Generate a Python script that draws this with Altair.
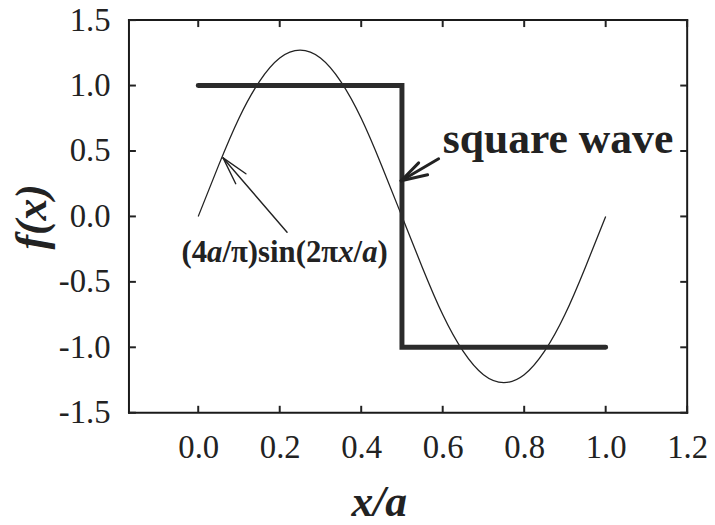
import altair as alt
import pandas as pd

# ---- data ----
x_sine = [0.00, 0.05, 0.10, 0.15, 0.20, 0.25, 0.30, 0.35, 0.40, 0.45, 0.50,
          0.55, 0.60, 0.65, 0.70, 0.75, 0.80, 0.85, 0.90, 0.95, 1.00]
y_sine = [0.00, 0.39, 0.75, 1.03, 1.21, 1.27, 1.21, 1.03, 0.75, 0.39, 0.00,
          -0.39, -0.75, -1.03, -1.21, -1.27, -1.21, -1.03, -0.75, -0.39, 0.00]

x_square = [0.0, 0.5, 0.5, 1.0]
y_square = [1.0, 1.0, -1.0, -1.0]

x_ticks = [0.0, 0.2, 0.4, 0.6, 0.8, 1.0, 1.2]
y_ticks = [-1.5, -1.0, -0.5, 0.0, 0.5, 1.0, 1.5]

# arrow segments (shaft + two barbs)
sq_arrow_x1 = [0.590, 0.498, 0.498]
sq_arrow_y1 = [0.440, 0.273, 0.273]
sq_arrow_x2 = [0.498, 0.541, 0.563]
sq_arrow_y2 = [0.273, 0.409, 0.318]

sin_arrow_x1 = [0.218, 0.061, 0.061]
sin_arrow_y1 = [-0.121, 0.447, 0.447]
sin_arrow_x2 = [0.061, 0.117, 0.092]
sin_arrow_y2 = [0.447, 0.326, 0.250]

sq_label = "square wave"
sq_label_x = [0.60]
sq_label_y = [0.483]

# sine label pieces: text, italic?
sin_label_pieces = ["(4", "a", "/π)sin(2π", "x", "/", "a", ")"]
sin_label_italic = [False, True, False, True, False, True, False]
sin_label_x = [-0.041]
sin_label_y = [-0.346]

# ---- styling ----
W, H = 563, 396
FONT = "Liberation Serif"
INK = "#222222"
FRAME = "#1a1a1a"
XDOM = [-0.17, 1.2]
YDOM = [-1.5, 1.5]
TL = 7  # inward tick length in pixels
tx = TL * (XDOM[1] - XDOM[0]) / W   # tick length in x data units
ty = TL * (YDOM[1] - YDOM[0]) / H   # tick length in y data units

xs = alt.Scale(domain=XDOM, nice=False, zero=False)
ys = alt.Scale(domain=YDOM, nice=False, zero=False)

x_axis = alt.Axis(values=x_ticks, format=".1f", grid=False, ticks=False, domain=False,
                  labelFont=FONT, labelFontSize=33, labelColor=INK,
                  labelPadding=19, labelFlush=False, title="x/a", titleFont=FONT,
                  titleFontSize=44, titleFontWeight="bold", titleFontStyle="italic",
                  titleColor=INK, titleX=252, titleY=104, titleBaseline="alphabetic",
                  titleAlign="center", titleAnchor="start")
y_axis = alt.Axis(values=y_ticks, grid=False, ticks=False, domain=False,
                  labelExpr="(datum.value < 0 ? '-' : '') + format(abs(datum.value), '.1f')",
                  labelFont=FONT, labelFontSize=33, labelColor=INK, labelPadding=19,
                  labelFlush=False, title="f(x)", titleFont=FONT, titleFontSize=44,
                  titleFontWeight="bold", titleFontStyle="italic", titleColor=INK,
                  titleAngle=-90, titleX=-97, titleY=198, titleAlign="center",
                  titleBaseline="middle", titleAnchor="start")

sine_df = pd.DataFrame({"x": x_sine, "y": y_sine})
sine = alt.Chart(sine_df).mark_line(color=INK, strokeWidth=1.3, interpolate="natural").encode(
    x=alt.X("x:Q", scale=xs, axis=x_axis),
    y=alt.Y("y:Q", scale=ys, axis=y_axis),
)

sq_df = pd.DataFrame({"x": x_square, "y": y_square, "i": list(range(len(x_square)))})
square = alt.Chart(sq_df).mark_line(color="#2b2b2b", strokeWidth=5, strokeCap="round",
                                     strokeJoin="miter").encode(
    x=alt.X("x:Q", scale=xs), y=alt.Y("y:Q", scale=ys), order="i:Q")

def segments(x1, y1, x2, y2, width, color=INK, cap="round"):
    df = pd.DataFrame({"x": x1, "y": y1, "x2": x2, "y2": y2})
    return alt.Chart(df).mark_rule(color=color, strokeWidth=width, strokeCap=cap).encode(
        x=alt.X("x:Q", scale=xs), y=alt.Y("y:Q", scale=ys), x2="x2:Q", y2="y2:Q")

sq_arrow = segments(sq_arrow_x1, sq_arrow_y1, sq_arrow_x2, sq_arrow_y2, 3)
sin_arrow = segments(sin_arrow_x1, sin_arrow_y1, sin_arrow_x2, sin_arrow_y2, 1.4)

# frame: four sides built from the axis domains
frame = segments(
    [XDOM[0], XDOM[0], XDOM[1], XDOM[0]],
    [YDOM[0], YDOM[1], YDOM[0], YDOM[0]],
    [XDOM[0], XDOM[1], XDOM[1], XDOM[1]],
    [YDOM[1], YDOM[1], YDOM[1], YDOM[0]],
    2, FRAME, "square")

# inward ticks on all four sides, built from the tick lists
tick_x1 = x_ticks + x_ticks + [XDOM[0]] * len(y_ticks) + [XDOM[1]] * len(y_ticks)
tick_y1 = [YDOM[0]] * len(x_ticks) + [YDOM[1]] * len(x_ticks) + y_ticks + y_ticks
tick_x2 = x_ticks + x_ticks + [XDOM[0] + tx] * len(y_ticks) + [XDOM[1] - tx] * len(y_ticks)
tick_y2 = [YDOM[0] + ty] * len(x_ticks) + [YDOM[1] - ty] * len(x_ticks) + y_ticks + y_ticks
ticks = segments(tick_x1, tick_y1, tick_x2, tick_y2, 2, INK, "butt")

sq_text = alt.Chart(pd.DataFrame({"x": sq_label_x, "y": sq_label_y, "t": [sq_label]})).mark_text(
    font=FONT, fontSize=44, fontWeight="bold", color=INK, align="left", baseline="alphabetic"
).encode(x=alt.X("x:Q", scale=xs), y=alt.Y("y:Q", scale=ys), text="t:N")

# advance widths (Times metrics, per 1000 em) to lay the pieces side by side
ADV = {"(": 333, ")": 333, "4": 500, "2": 500, "/": 278, "π": 549, "s": 389,
       "i": 278, "n": 556, "a": 500, "x": 500}
SIN_FS = 31
sin_layers = []
offset = 0.0
for piece, ital in zip(sin_label_pieces, sin_label_italic):
    df = pd.DataFrame({"x": sin_label_x, "y": sin_label_y, "t": [piece]})
    sin_layers.append(
        alt.Chart(df).mark_text(font=FONT, fontSize=SIN_FS, fontWeight="bold",
                                fontStyle="italic" if ital else "normal", color=INK,
                                align="left", baseline="alphabetic", dx=round(offset, 2))
        .encode(x=alt.X("x:Q", scale=xs), y=alt.Y("y:Q", scale=ys), text="t:N"))
    offset += sum(ADV.get(c, 500) for c in piece) * SIN_FS / 1000.0

chart = alt.layer(
    sine, frame, ticks, square, sq_arrow, sin_arrow, sq_text, *sin_layers,
).properties(
    width=W, height=H,
    autosize=alt.AutoSizeParams(type="none"),
    padding={"left": 122, "top": 10, "right": 20, "bottom": 110},
).configure_view(strokeWidth=0)

chart.save("out.html", embed_options={"renderer": "svg", "actions": False})
